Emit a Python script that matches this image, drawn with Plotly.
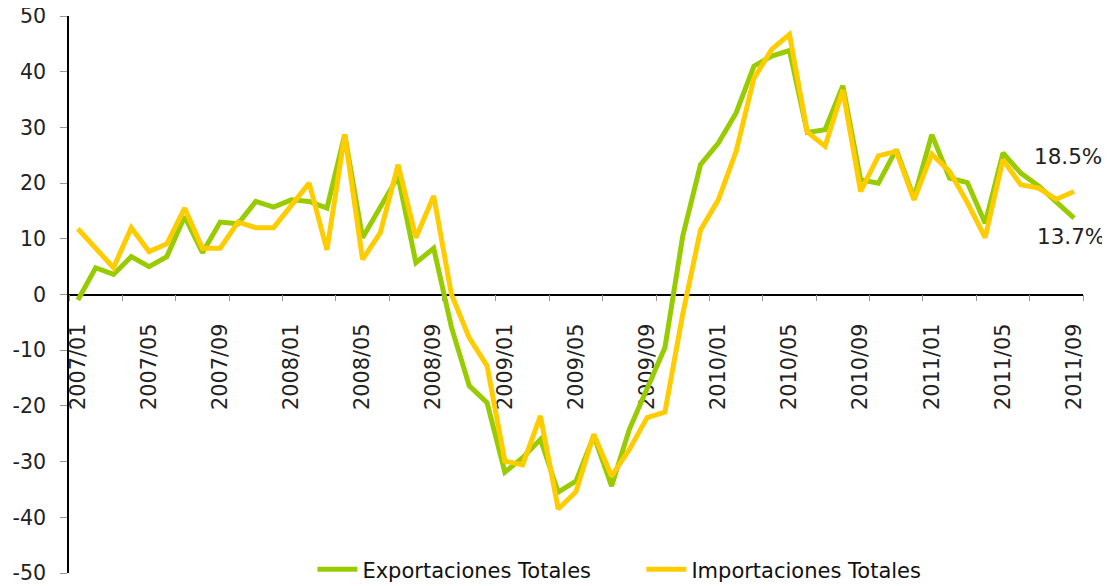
import plotly.graph_objects as go

# Monthly categories 2007/01 .. 2011/09
months = [f"{y}/{m:02d}" for y in range(2007, 2012) for m in range(1, 13)][:57]

exportaciones = [
    -1.0, 4.8, 3.6, 6.8, 5.0, 6.8, 14.0, 7.5, 13.0, 12.7, 16.7, 15.7,
    17.0, 16.7, 15.5, 28.7, 10.2, 15.8, 21.2, 5.7, 8.3, -5.9, -16.4, -19.4,
    -31.9, -29.3, -26.0, -35.5, -33.5, -25.4, -34.4, -24.2, -17.0, -9.5, 10.5, 23.3,
    27.2, 32.6, 41.0, 42.8, 43.8, 29.1, 29.6, 37.5, 20.6, 20.0, 26.0, 17.4,
    28.7, 20.9, 20.1, 12.8, 25.4, 21.8, 19.5, 16.7, 13.7,
]
importaciones = [
    11.8, 8.4, 4.8, 12.0, 7.7, 9.1, 15.5, 8.3, 8.3, 13.0, 12.0, 12.0,
    16.0, 20.0, 8.0, 28.7, 6.3, 11.1, 23.3, 10.2, 17.7, 0.0, -7.8, -12.8,
    -29.9, -30.6, -21.8, -38.5, -35.4, -25.1, -32.6, -27.8, -22.1, -21.1, -3.5, 11.6,
    17.0, 25.7, 38.8, 44.0, 46.7, 29.2, 26.6, 36.7, 18.5, 24.9, 25.7, 17.0,
    25.2, 22.1, 16.5, 10.2, 24.2, 19.7, 19.1, 17.1, 18.5,
]
series_names = ["Exportaciones Totales", "Importaciones Totales"]
end_labels = ["18.5%", "13.7%"]
y_ticks = [-50, -40, -30, -20, -10, 0, 10, 20, 30, 40, 50]
y_tick_text = [str(v) for v in y_ticks]

x_idx = list(range(len(months)))
label_idx = x_idx[::4]
label_text = [months[i] for i in label_idx]
minor_ticks = [i - 0.5 for i in range(0, len(months) + 1, 3)]

GREEN = "#99CC00"
YELLOW = "#FFCC00"
TXT = "#222222"

fig = go.Figure()
fig.add_trace(go.Scatter(x=x_idx, y=exportaciones, mode="lines", name=series_names[0],
                         line=dict(color=GREEN, width=5)))
fig.add_trace(go.Scatter(x=x_idx, y=importaciones, mode="lines", name=series_names[1],
                         line=dict(color=YELLOW, width=5)))

fig.add_annotation(x=x_idx[-1], y=importaciones[-1], text=end_labels[0], showarrow=False,
                   xshift=-6, yshift=35, font=dict(family="DejaVu Sans", size=21.5, color=TXT))
fig.add_annotation(x=x_idx[-1], y=exportaciones[-1], text=end_labels[1], showarrow=False,
                   xshift=-3, yshift=-18, font=dict(family="DejaVu Sans", size=21.5, color=TXT))

# page body has an 8px margin, so the figure is sized to fit the 1110x586 window
fig.update_layout(
    width=1102, height=578,
    margin=dict(l=61, r=27, t=8, b=13, autoexpand=False),
    paper_bgcolor="white", plot_bgcolor="white",
    font=dict(family="DejaVu Sans", size=21, color=TXT),
    showlegend=True,
    legend=dict(orientation="h", x=0.5645, xanchor="center", y=0.006, yanchor="middle",
                font=dict(family="DejaVu Sans", size=21, color="#111"),
                bgcolor="rgba(0,0,0,0)", itemwidth=40, entrywidth=274),
    xaxis=dict(
        range=[-0.5, len(months) - 0.5],
        anchor="free", position=0.5,
        showline=True, linecolor="black", linewidth=1.5,
        showgrid=False, zeroline=False,
        tickmode="array", tickvals=label_idx, ticktext=label_text,
        ticks="outside", ticklen=6, tickcolor="rgba(0,0,0,0)",
        tickangle=-90, ticklabelstandoff=14,
        tickfont=dict(family="DejaVu Sans", size=20.8, color=TXT),
        minor=dict(tickmode="array", tickvals=minor_ticks, ticks="outside", ticklen=6,
                   tickcolor="#999", tickwidth=1),
        layer="below traces", automargin=False,
    ),
    yaxis=dict(
        range=[-50, 50],
        tickmode="array", tickvals=y_ticks, ticktext=y_tick_text,
        showline=True, linecolor="black", linewidth=1.5,
        showgrid=False, zeroline=False,
        ticks="outside", ticklen=7, tickcolor="#999", tickwidth=1,
        ticklabelstandoff=10, ticklabeloverflow="allow",
        tickfont=dict(family="DejaVu Sans", size=20.6, color=TXT),
        automargin=False,
    ),
)

fig.write_html("out.html")
